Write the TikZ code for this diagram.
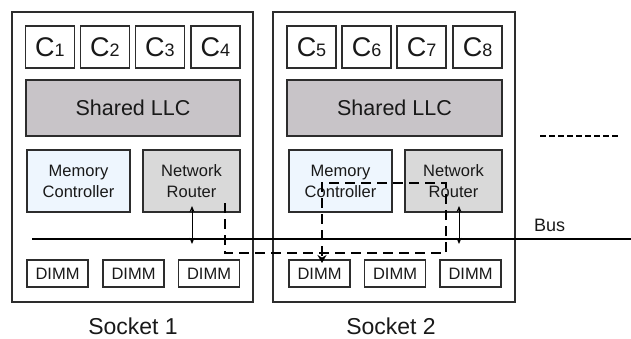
\documentclass[tikz,border=0pt]{standalone}
\usepackage{fontspec}
\setmainfont{Liberation Sans}
\usetikzlibrary{arrows.meta,calc}

\definecolor{llcgray}{RGB}{200,196,200}
\definecolor{routergray}{RGB}{217,217,217}
\definecolor{mcblue}{RGB}{238,246,254}
\definecolor{edge}{RGB}{45,45,45}
\definecolor{inkc}{RGB}{25,25,25}

\tikzset{
  socketbox/.style={draw=edge, line width=1.1pt, inner sep=0pt, outer sep=0pt},
  corebox/.style={draw=edge, line width=1.4pt, fill=white, minimum width=49pt, minimum height=42pt, inner sep=0pt, outer sep=0pt, text=inkc},
  llcbox/.style={draw=edge, line width=1.4pt, fill=llcgray, minimum height=56pt, inner sep=0pt, outer sep=0pt, text=inkc, font=\fontsize{21.5}{24}\selectfont},
  mcbox/.style={draw=edge, line width=1.4pt, fill=mcblue, minimum width=103pt, minimum height=62pt, inner sep=0pt, outer sep=0pt, align=center, text=inkc, font=\fontsize{16.5}{21}\selectfont},
  routerbox/.style={draw=edge, line width=1.4pt, fill=routergray, minimum width=97pt, minimum height=62pt, inner sep=0pt, outer sep=0pt, align=center, text=inkc, font=\fontsize{16.5}{21}\selectfont},
  dimmbox/.style={draw=edge, line width=1.4pt, fill=white, minimum width=61pt, minimum height=27pt, inner sep=0pt, outer sep=0pt, text=inkc, font=\fontsize{16.5}{18}\selectfont},
  caption/.style={text=inkc, inner sep=0pt, font=\fontsize{23}{26}\selectfont},
  buslabel/.style={text=inkc, inner sep=0pt, font=\fontsize{18}{20}\selectfont},
  busline/.style={line width=2.4pt, black},
  dbl/.style={{Stealth[length=6pt,width=5pt]}-{Stealth[length=6pt,width=5pt]}, line width=1pt, black},
  route/.style={line width=2.6pt, black, dash pattern=on 10pt off 6pt, -{Stealth[length=8pt,width=9pt]}},
  legenddash/.style={line width=1.8pt, black, dash pattern=on 6pt off 3pt}
}

\newcommand{\core}[1]{\fontsize{27}{30}\selectfont C\fontsize{18}{20}\selectfont #1}

\begin{document}
\begin{tikzpicture}[x=1pt,y=-1pt]
\useasboundingbox (0,0) rectangle (631,338);

% sockets
\node[socketbox, minimum width=241pt, minimum height=290pt] (s1) at (132.5,157) {};
\node[socketbox, minimum width=242pt, minimum height=290pt] (s2) at (394,157) {};

% cores
\node[corebox] (c1) at (50,47)    {\core{1}};
\node[corebox] (c2) at (105,47)   {\core{2}};
\node[corebox] (c3) at (160,47)   {\core{3}};
\node[corebox] (c4) at (215.5,47) {\core{4}};
\node[corebox] (c5) at (311.5,47) {\core{5}};
\node[corebox] (c6) at (366.5,47) {\core{6}};
\node[corebox] (c7) at (421.5,47) {\core{7}};
\node[corebox] (c8) at (477.5,47) {\core{8}};

% shared caches
\node[llcbox, minimum width=214pt] (llc1) at (133,108)   {Shared LLC};
\node[llcbox, minimum width=215pt] (llc2) at (394.5,108) {Shared LLC};

% memory controllers and routers
\node[mcbox] (mc1) at (78.5,181)  {Memory\\Controller};
\node[routerbox] (nr1) at (191.5,181) {Network\\Router};
\node[mcbox] (mc2) at (340.5,181) {Memory\\Controller};
\node[routerbox] (nr2) at (453.5,181) {Network\\Router};

% DIMMs
\node[dimmbox] (d1) at (57.5,273.5)  {DIMM};
\node[dimmbox] (d2) at (133.5,273.5) {DIMM};
\node[dimmbox] (d3) at (209,273.5)   {DIMM};
\node[dimmbox] (d4) at (319.5,273.5) {DIMM};
\node[dimmbox] (d5) at (395,273.5)   {DIMM};
\node[dimmbox] (d6) at (470.5,273.5) {DIMM};

% bus
\coordinate (busL) at (32,239);
\coordinate (busR) at (631,239);
\draw[busline] (busL) -- (busR);
\node[buslabel, anchor=base west] (buslbl) at (534,231) {Bus};

% router to bus links
\draw[dbl] ([xshift=0.5pt,yshift=6pt]nr1.south) -- ([xshift=0.5pt,yshift=-5pt]nr1.south |- busL);
\draw[dbl] ([xshift=5.5pt,yshift=6pt]nr2.south) -- ([xshift=5.5pt,yshift=-5pt]nr2.south |- busL);

% remote access path
\coordinate (r0) at ([xshift=-15pt,yshift=9pt]nr1.east |- nr1.south);
\coordinate (r1) at (225,253);
\coordinate (r2) at (446,253);
\coordinate (r3) at (446,183);
\coordinate (r4) at (322,183);
\draw[route] (r0) -- (r1) -- (r2) -- (r3) -- (r4) -- ([xshift=2.5pt,yshift=-3pt]d4.north);

% legend dash
\coordinate (lg0) at (540,136);
\coordinate (lg1) at (618,136);
\draw[legenddash] (lg0) -- (lg1);

% captions
\node[caption] (cap1) at (133,326) {Socket 1};
\node[caption] (cap2) at (391,326) {Socket 2};
\end{tikzpicture}
\end{document}
